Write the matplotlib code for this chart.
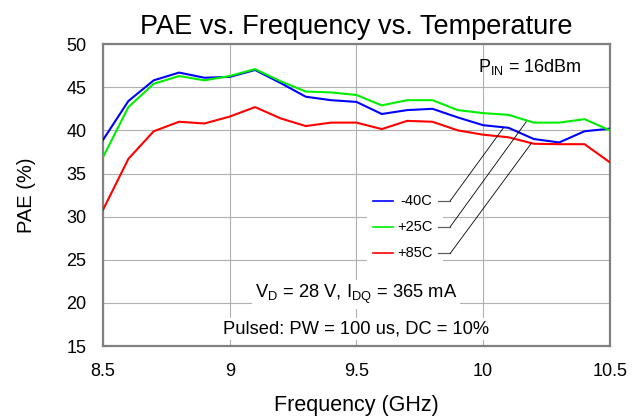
import matplotlib
matplotlib.use("Agg")
import matplotlib.pyplot as plt
from matplotlib.patches import Rectangle

plt.rcParams['font.family'] = ['Liberation Sans', 'DejaVu Sans']
plt.rcParams['mathtext.fontset'] = 'custom'
plt.rcParams['mathtext.rm'] = 'Liberation Sans'
plt.rcParams['mathtext.it'] = 'Liberation Sans'

freq = [8.5, 8.6, 8.7, 8.8, 8.9, 9.0, 9.1, 9.2, 9.3, 9.4, 9.5,
        9.6, 9.7, 9.8, 9.9, 10.0, 10.1, 10.2, 10.3, 10.4, 10.5]
pae_m40 = [38.9, 43.4, 45.8, 46.7, 46.1, 46.2, 47.0, 45.5, 43.9, 43.5, 43.3,
           41.9, 42.35, 42.5, 41.5, 40.6, 40.3, 39.0, 38.6, 39.9, 40.2]
pae_p25 = [36.9, 42.7, 45.4, 46.3, 45.8, 46.3, 47.1, 45.7, 44.5, 44.4, 44.1,
           42.9, 43.5, 43.5, 42.35, 42.0, 41.8, 40.9, 40.9, 41.3, 40.0]
pae_p85 = [30.8, 36.7, 39.9, 41.0, 40.8, 41.6, 42.7, 41.4, 40.5, 40.9, 40.9,
           40.15, 41.1, 41.0, 40.0, 39.5, 39.2, 38.45, 38.4, 38.4, 36.3]
labels = ['-40C', '+25C', '+85C']
colors = ['#0000ff', '#00ee00', '#ff0000']
xticks = [8.5, 9, 9.5, 10, 10.5]
xtick_labels = ['8.5', '9', '9.5', '10', '10.5']
yticks = [15, 20, 25, 30, 35, 40, 45, 50]

fig = plt.figure(figsize=(6.44, 4.16), dpi=100)
ax = fig.add_axes([0.16, 0.168, 0.787, 0.726])

series = [pae_m40, pae_p25, pae_p85]
for s, c in zip(series, colors):
    ax.plot(freq, s, color=c, lw=1.5, zorder=3)

ax.set_xlim(8.5, 10.5)
ax.set_ylim(15, 50)
ax.set_xticks(xticks)
ax.set_xticklabels(xtick_labels)
ax.set_yticks(yticks)
ax.tick_params(length=0, labelsize=13)
ax.tick_params(axis='x', pad=12)
ax.tick_params(axis='y', pad=12)
ax.grid(True, color='#b0b0b0', lw=0.8)
ax.set_axisbelow(True)
for sp in ax.spines.values():
    sp.set_color('#808080')
    sp.set_linewidth(1.6)

ax.set_title('PAE vs. Frequency vs. Temperature', fontsize=19.5, pad=7)
ax.set_xlabel('Frequency (GHz)', fontsize=15.5, labelpad=11)
ax.set_ylabel('PAE (%)', fontsize=14.5, labelpad=22)

# legend box
ax.add_patch(Rectangle((9.54, 24.7), 0.30, 8.4, facecolor='white', edgecolor='none', zorder=1))
label_y = [31.84, 28.83, 25.74]
targets = [(10.08, 40.3), (10.17, 41.0), (10.19, 38.5)]
for lab, c, yy, (tx, ty) in zip(labels, colors, label_y, targets):
    ax.plot([9.565, 9.644], [yy, yy], color=c, lw=1.2, zorder=3)
    ax.text(9.80, yy, lab, ha='right', va='center', fontsize=10.5, zorder=4)
    ax.plot([9.82, 9.87], [yy, yy], color='#606060', lw=0.9, zorder=3)
    ax.plot([9.87, tx], [yy, ty], color='black', lw=0.6, zorder=3)

ax.text(10.39, 47.3, r'P$_{\rm IN}$ = 16dBm', ha='right', va='center', fontsize=13)
ax.text(9.5, 21.0, r'V$_{\rm D}$ = 28 V, I$_{\rm DQ}$ = 365 mA', ha='center', va='center',
        fontsize=13.2, bbox=dict(facecolor='white', edgecolor='none', pad=2))
ax.text(9.5, 17.0, 'Pulsed: PW = 100 us, DC = 10%', ha='center', va='center',
        fontsize=13.2, bbox=dict(facecolor='white', edgecolor='none', pad=2))

fig.savefig('out.png', dpi=100)
